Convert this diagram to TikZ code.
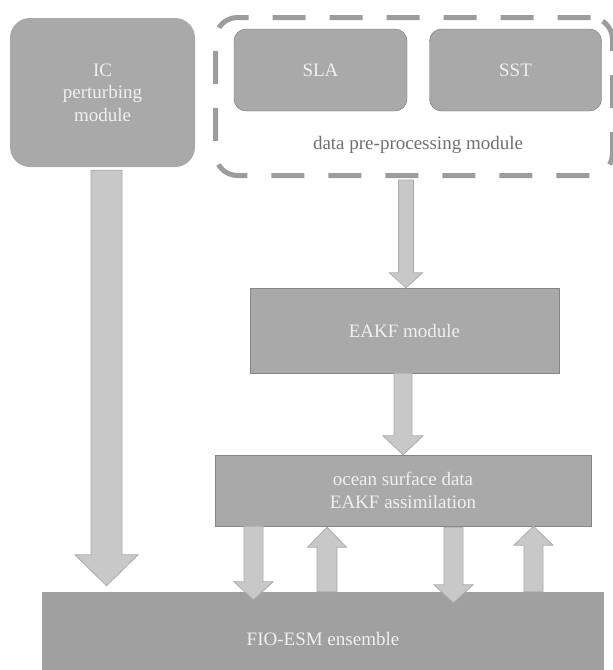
\documentclass[tikz,border=0pt]{standalone}
\usepackage{fontspec}
\setmainfont{Liberation Serif}
\usetikzlibrary{arrows,calc}
\definecolor{boxgray}{HTML}{A9A9A9}
\definecolor{basegray}{HTML}{A0A0A0}
\definecolor{edgegray}{HTML}{858585}
\definecolor{dashgray}{HTML}{9C9C9C}
\definecolor{arrowgray}{HTML}{C8C8C8}
\definecolor{arrowedge}{HTML}{ABABAB}
\definecolor{labelgray}{HTML}{707070}

\begin{document}
\begin{tikzpicture}[x=1pt,y=-1pt,font=\fontsize{19}{22.5}\selectfont,
	main node/.style={rectangle,draw=edgegray,fill=boxgray,text=white!94!black,align=center,inner sep=0pt},
	round node/.style={main node,rounded corners=#1},
	fat arrow/.style n args={3}{draw=arrowedge,fill=arrowgray,line width=0.8pt,
		to path={let \p1=(\tikztostart),\p2=(\tikztotarget),\n1={sign(\y1-\y2)} in
			(\x2-#1,\y1) -- (\x2-#1,\y2+\n1*#3) -- (\x2-#2,\y2+\n1*#3) -- (\x2,\y2)
			-- (\x2+#2,\y2+\n1*#3) -- (\x2+#1,\y2+\n1*#3) -- (\x2+#1,\y1) -- cycle}}]
	\clip (0,0) rectangle (613,670);
	\node[round node=20pt,draw=none,minimum width=185pt,minimum height=149pt] (ic) at (102.5,92.5) {IC\\perturbing\\module};
	\node[rectangle,draw=dashgray,line width=5pt,dash pattern=on 33pt off 24pt,rounded corners=22pt,
		minimum width=397pt,minimum height=158pt] (prep) at (414,96.5) {};
	\node[round node=12pt,draw=edgegray!85!black,minimum width=173pt,minimum height=82pt] (sla) at (320.5,70) {SLA};
	\node[round node=12pt,draw=edgegray!85!black,minimum width=172pt,minimum height=82pt] (sst) at (515.5,70) {SST};
	\node[text=labelgray] (preplabel) at (418,145) {data pre-processing module};
	\node[main node,minimum width=309pt,minimum height=85pt] (eakf) at (404.5,330.5) {EAKF module};
	\node[main node,minimum width=376pt,minimum height=71pt] (ocean) at (403,490.5) {ocean surface data\\EAKF assimilation};
	\node[main node,draw=none,fill=basegray,minimum width=562pt,minimum height=94pt] (fio) at (323,639) {FIO-ESM ensemble};
	\draw[fat arrow={15.5pt}{31.5pt}{31pt}] ($(ic.south -| 106.5,0)+(0,3)$) to ($(fio.north -| 106.5,0)+(0,-6)$);
	\draw[fat arrow={7.5pt}{16.5pt}{15pt}] ($(prep.south -| 406,0)+(0,2)$) to (406,0 |- eakf.north);
	\draw[fat arrow={9pt}{20pt}{19pt}] (403,0 |- eakf.south) to (403,0 |- ocean.north);
	\draw[fat arrow={9.5pt}{19.5pt}{18pt}] (253.5,0 |- ocean.south) to ($(fio.north -| 253.5,0)+(0,8)$);
	\draw[fat arrow={10pt}{19.5pt}{20pt}] (327,0 |- fio.north) to ($(ocean.south -| 327,0)+(0,1)$);
	\draw[fat arrow={9.5pt}{19.5pt}{18pt}] ($(ocean.south -| 453.5,0)+(0,1)$) to ($(fio.north -| 453.5,0)+(0,11)$);
	\draw[fat arrow={9.5pt}{19.5pt}{19pt}] (533.5,0 |- fio.north) to (533.5,0 |- ocean.south);
\end{tikzpicture}
\end{document}
